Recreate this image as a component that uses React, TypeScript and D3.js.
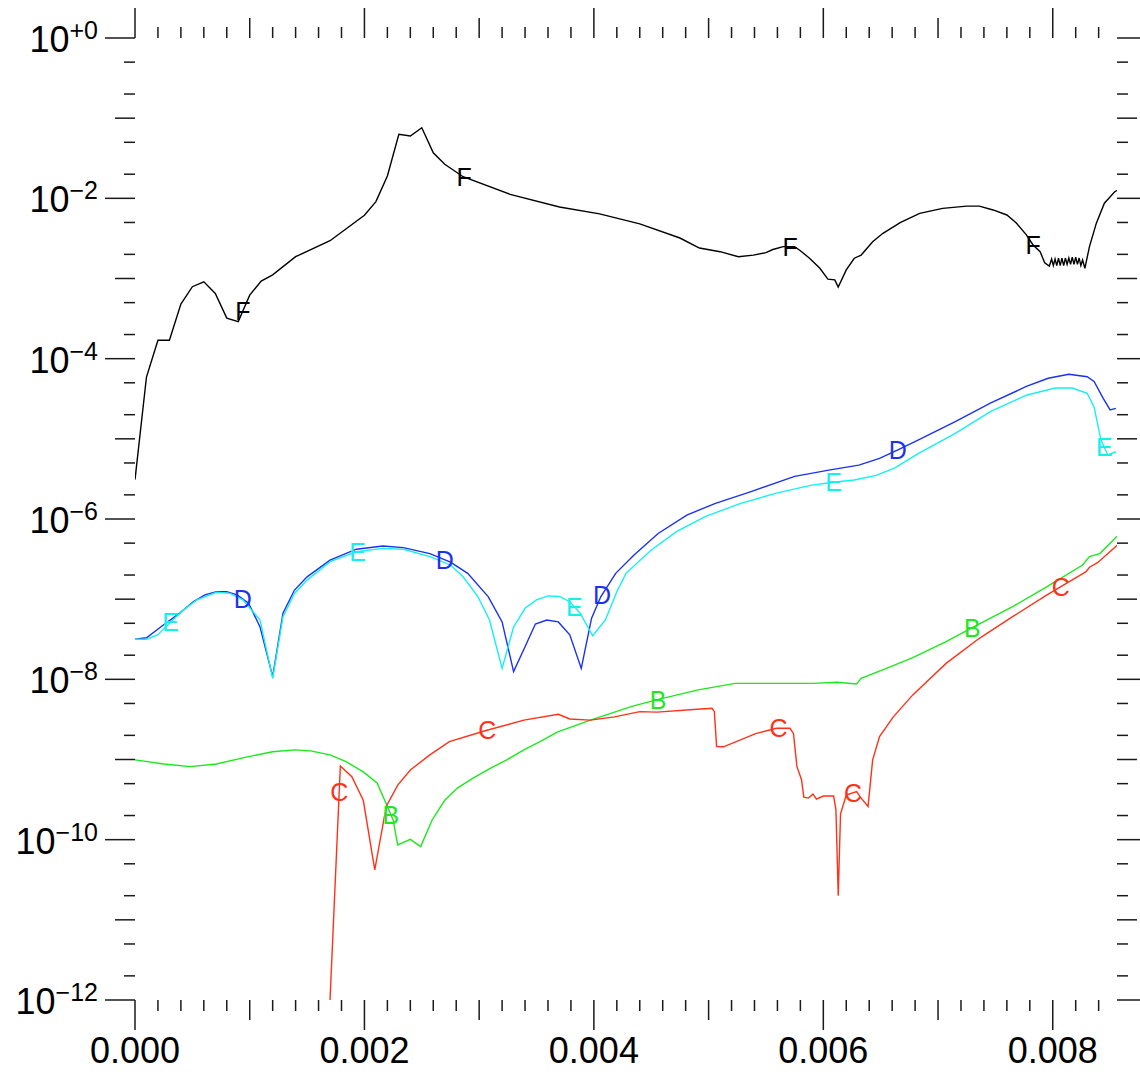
import React from 'react';
import * as d3 from 'd3';

// axis setup
const X_MAX = 0.00856;
const xMajor = [0, 0.002, 0.004, 0.006, 0.008];
const xLabels = ['0.000', '0.002', '0.004', '0.006', '0.008'];
const yMajorExp = [0, -2, -4, -6, -8, -10, -12];
const yLabels = ['+0', '\u22122', '\u22124', '\u22126', '\u22128', '\u221210', '\u221212'];

// series F (black)
const seriesF: [number, number][] = [
  [0, 3.1e-6], [0.0001, 5.9e-5], [0.0002, 1.7e-4], [0.0003, 1.7e-4], [0.0004, 4.8e-4],
  [0.0005, 7.9e-4], [0.0006, 9.1e-4], [0.0007, 6.5e-4], [0.0008, 3.2e-4], [0.0009, 2.9e-4],
  [0.001, 6.2e-4], [0.0011, 9.3e-4], [0.0012, 1.11e-3], [0.0014, 1.87e-3], [0.0017, 2.96e-3],
  [0.002, 6.15e-3], [0.0021, 9.1e-3], [0.0022, 1.9e-2], [0.0023, 6.3e-2], [0.0024, 6.0e-2],
  [0.0025, 7.6e-2], [0.0026, 3.7e-2], [0.0027, 2.66e-2], [0.00286, 1.86e-2], [0.00327, 1.12e-2],
  [0.0037, 7.8e-3], [0.00405, 6.4e-3], [0.0044, 4.8e-3], [0.00475, 3.2e-3], [0.00492, 2.4e-3],
  [0.0051, 2.16e-3], [0.00526, 1.87e-3], [0.00539, 1.96e-3], [0.0055, 2.1e-3], [0.00556, 2.3e-3],
  [0.00565, 2.5e-3], [0.00575, 2.5e-3], [0.0058, 2.22e-3], [0.00588, 1.79e-3], [0.00597, 1.34e-3],
  [0.00604, 9.8e-4], [0.0061, 9.6e-4], [0.00613, 7.8e-4], [0.0062, 1.28e-3], [0.00627, 1.79e-3],
  [0.00633, 1.96e-3], [0.00643, 2.88e-3], [0.00652, 3.66e-3], [0.00667, 4.97e-3], [0.00684, 6.5e-3],
  [0.00704, 7.5e-3], [0.00725, 8.0e-3], [0.00736, 8.0e-3], [0.00748, 7.16e-3], [0.0076, 6.2e-3],
  [0.00768, 4.97e-3], [0.00777, 3.5e-3], [0.00783, 2.6e-3], [0.00789, 2.16e-3], [0.00793, 1.57e-3],
  [0.00797, 1.43e-3], [0.00799, 1.75e-3], [0.008005, 1.45e-3], [0.00802, 1.75e-3], [0.008035, 1.45e-3],
  [0.00805, 1.8e-3], [0.008065, 1.45e-3], [0.00808, 1.8e-3], [0.008095, 1.45e-3], [0.00811, 1.8e-3],
  [0.008125, 1.5e-3], [0.00814, 1.8e-3], [0.008155, 1.5e-3], [0.00817, 1.85e-3], [0.008185, 1.5e-3],
  [0.0082, 1.85e-3], [0.008215, 1.5e-3], [0.00823, 1.8e-3], [0.008245, 1.45e-3], [0.00826, 1.7e-3],
  [0.00828, 1.34e-3], [0.00832, 2.5e-3], [0.00838, 4.9e-3], [0.00845, 8.7e-3], [0.00854, 1.21e-2],
  [0.00856, 1.25e-2],
];

// series D (blue)
const seriesD: [number, number][] = [
  [0, 3.16e-8], [0.0001, 3.3e-8], [0.00025, 4.8e-8], [0.00039, 6.7e-8], [0.00051, 9.3e-8],
  [0.00061, 1.13e-7], [0.00071, 1.24e-7], [0.0008, 1.24e-7], [0.00089, 1.13e-7], [0.00099, 8.9e-8],
  [0.00109, 4.5e-8], [0.0012, 1.08e-8], [0.00129, 6.7e-8], [0.00139, 1.3e-7], [0.0015, 1.9e-7],
  [0.0017, 3.06e-7], [0.00193, 4.2e-7], [0.00216, 4.6e-7], [0.00234, 4.39e-7], [0.00257, 3.7e-7],
  [0.00275, 2.9e-7], [0.0029, 2.1e-7], [0.00308, 1.07e-7], [0.0032, 5.2e-8], [0.0033, 1.25e-8],
  [0.0034, 2.55e-8], [0.00349, 4.9e-8], [0.00359, 5.5e-8], [0.00369, 5.2e-8], [0.00379, 3.6e-8],
  [0.00389, 1.37e-8], [0.00398, 5.8e-8], [0.00406, 1.07e-7], [0.00419, 2.1e-7], [0.00435, 3.56e-7],
  [0.00456, 6.6e-7], [0.00481, 1.12e-6], [0.00506, 1.57e-6], [0.00537, 2.2e-6], [0.00575, 3.4e-6],
  [0.00606, 4.1e-6], [0.00631, 4.7e-6], [0.00649, 5.7e-6], [0.00665, 7.3e-6], [0.00683, 9.7e-6],
  [0.00715, 1.64e-5], [0.00746, 2.8e-5], [0.00777, 4.5e-5], [0.00796, 5.7e-5], [0.00814, 6.4e-5],
  [0.0083, 5.96e-5], [0.00836, 5.2e-5], [0.00844, 3.2e-5], [0.0085, 2.3e-5], [0.00855, 2.4e-5],
];

// series E (cyan)
const seriesE: [number, number][] = [
  [0, 3.16e-8], [0.0001, 3.16e-8], [0.0002, 3.6e-8], [0.0003, 5.0e-8], [0.00042, 7.3e-8],
  [0.00054, 9.8e-8], [0.00071, 1.22e-7], [0.00083, 1.18e-7], [0.00094, 9.8e-8], [0.00109, 5.5e-8],
  [0.0012, 1.03e-8], [0.00129, 6.05e-8], [0.00139, 1.18e-7], [0.0015, 1.73e-7], [0.0017, 2.94e-7],
  [0.00193, 3.9e-7], [0.00216, 4.3e-7], [0.00234, 4.2e-7], [0.00257, 3.4e-7], [0.00275, 2.67e-7],
  [0.00286, 1.9e-7], [0.00299, 1.07e-7], [0.00309, 5.5e-8], [0.0032, 1.37e-8], [0.0033, 4.5e-8],
  [0.0034, 7.7e-8], [0.0035, 9.8e-8], [0.0036, 1.1e-7], [0.0037, 1.08e-7], [0.00379, 9.3e-8],
  [0.00388, 6.7e-8], [0.00399, 3.5e-8], [0.0041, 5.5e-8], [0.0042, 1.24e-7], [0.00428, 2.1e-7],
  [0.0045, 4.1e-7], [0.00472, 6.95e-7], [0.00497, 1.07e-6], [0.00528, 1.57e-6], [0.00559, 2.1e-6],
  [0.0059, 2.65e-6], [0.00609, 2.87e-6], [0.00627, 3.07e-6], [0.00646, 3.5e-6], [0.00662, 4.3e-6],
  [0.00683, 6.6e-6], [0.00715, 1.17e-5], [0.00746, 2.2e-5], [0.00777, 3.5e-5], [0.00802, 4.3e-5],
  [0.00817, 4.3e-5], [0.0083, 3.7e-5], [0.00836, 2.5e-5], [0.00842, 9.7e-6], [0.00848, 6.3e-6],
  [0.00855, 6.9e-6],
];

// series C (red)
const seriesC: [number, number][] = [
  [0.0017, 1e-12], [0.00179, 8.3e-10], [0.00189, 6.1e-10], [0.00199, 3.1e-10], [0.00209, 4.2e-11],
  [0.00219, 2.6e-10], [0.00229, 4.8e-10], [0.0024, 7.4e-10], [0.00257, 1.14e-9], [0.00274, 1.67e-9],
  [0.00306, 2.3e-9], [0.00339, 3.1e-9], [0.00369, 3.66e-9], [0.00379, 3.2e-9], [0.00397, 3.1e-9],
  [0.00418, 3.4e-9], [0.0044, 3.95e-9], [0.00455, 3.9e-9], [0.00487, 4.2e-9], [0.00503, 4.35e-9],
  [0.00505, 3.95e-9], [0.00507, 1.45e-9], [0.00513, 1.44e-9], [0.00541, 2.1e-9], [0.00559, 2.45e-9],
  [0.00571, 2.45e-9], [0.00574, 2.1e-9], [0.00577, 8.15e-10], [0.00581, 5.6e-10], [0.00583, 3.4e-10],
  [0.00587, 3.3e-10], [0.00591, 3.7e-10], [0.00594, 3.2e-10], [0.006, 3.5e-10], [0.00609, 3.5e-10],
  [0.00611, 2.35e-10], [0.00613, 2.0e-11], [0.00615, 2.1e-10], [0.0062, 3.6e-10], [0.00629, 3.97e-10],
  [0.00633, 3.3e-10], [0.00639, 2.6e-10], [0.00643, 9.9e-10], [0.00649, 1.93e-9], [0.00661, 3.4e-9],
  [0.00678, 6.4e-9], [0.00707, 1.58e-8], [0.00736, 3.25e-8], [0.00765, 6.05e-8], [0.00795, 1.13e-7],
  [0.00824, 2.0e-7], [0.00829, 2.2e-7], [0.00832, 2.5e-7], [0.00839, 2.85e-7], [0.00854, 4.4e-7],
  [0.00856, 4.7e-7],
];

// series B (green)
const seriesB: [number, number][] = [
  [0, 9.9e-10], [0.00025, 8.8e-10], [0.00048, 8.15e-10], [0.00071, 8.8e-10], [0.00097, 1.07e-9],
  [0.0012, 1.25e-9], [0.00139, 1.32e-9], [0.00153, 1.28e-9], [0.0017, 1.14e-9], [0.00184, 9.4e-10],
  [0.00199, 7.0e-10], [0.00211, 5.1e-10], [0.00219, 2.8e-10], [0.00225, 1.76e-10], [0.00229, 8.6e-11],
  [0.0024, 1.01e-10], [0.00249, 8.2e-11], [0.00259, 1.76e-10], [0.0027, 3.1e-10], [0.00281, 4.4e-10],
  [0.00295, 5.9e-10], [0.0031, 7.8e-10], [0.00324, 9.9e-10], [0.00339, 1.32e-9], [0.00353, 1.67e-9],
  [0.00368, 2.2e-9], [0.00397, 3.1e-9], [0.00433, 4.6e-9], [0.00458, 5.7e-9], [0.00491, 7.4e-9],
  [0.00523, 8.9e-9], [0.00559, 8.9e-9], [0.00591, 8.9e-9], [0.00612, 9.2e-9], [0.00629, 8.75e-9],
  [0.00633, 1.03e-8], [0.00655, 1.37e-8], [0.00678, 1.86e-8], [0.00707, 2.95e-8], [0.00731, 4.5e-8],
  [0.00765, 8.05e-8], [0.00795, 1.43e-7], [0.00826, 2.67e-7], [0.00832, 3.4e-7], [0.00841, 3.7e-7],
  [0.00853, 5.5e-7], [0.00856, 6.1e-7],
];

// x positions of the letter labels along each curve
const labelsF = [0.00094, 0.00287, 0.00571, 0.00783];
const labelsD = [0.00094, 0.0027, 0.00407, 0.00665];
const labelsE = [0.00031, 0.00194, 0.00383, 0.00609, 0.00845];
const labelsC = [0.00178, 0.00307, 0.00561, 0.00626, 0.00807];
const labelsB = [0.00223, 0.00456, 0.0073];

const series = [
  { name: 'F', data: seriesF, labels: labelsF, color: '#000000' },
  { name: 'D', data: seriesD, labels: labelsD, color: '#1a32f0' },
  { name: 'E', data: seriesE, labels: labelsE, color: '#14f0f0' },
  { name: 'B', data: seriesB, labels: labelsB, color: '#1de81d' },
  { name: 'C', data: seriesC, labels: labelsC, color: '#ff3218' },
];

const FONT = '"Liberation Sans", Arial, Helvetica, sans-serif';

// y value along a series at x, interpolated in log space
const interpLog = (data: [number, number][], x: number) => {
  for (let i = 1; i < data.length; i++) {
    if (x <= data[i][0]) {
      const [x0, y0] = data[i - 1];
      const [x1, y1] = data[i];
      const t = (x - x0) / (x1 - x0);
      return Math.pow(10, Math.log10(y0) + t * (Math.log10(y1) - Math.log10(y0)));
    }
  }
  return data[data.length - 1][1];
};

const App = () => {
  const width = 1140;
  const height = 1072;
  const left = 135, right = 1117, top = 38, bottom = 1000;

  const x = d3.scaleLinear().domain([0, X_MAX]).range([left, right]);
  const y = d3.scaleLog().domain([1e-12, 1]).range([bottom, top]);

  const line = d3.line<[number, number]>()
    .x(d => x(d[0]))
    .y(d => y(d[1]));

  // x ticks: every 0.0002, medium at odd 0.001, long at 0.002
  const xTicks: { v: number; len: number }[] = [];
  for (let i = 0; i * 0.0002 <= X_MAX + 1e-12; i++) {
    xTicks.push({ v: i * 0.0002, len: i % 10 === 0 ? 30 : i % 5 === 0 ? 20 : 11 });
  }
  // y ticks: decades (long on even, medium on odd) plus 2x and 5x minors
  const yTicks: { v: number; len: number }[] = [];
  for (let e = 0; e >= -12; e--) {
    yTicks.push({ v: Math.pow(10, e), len: e % 2 === 0 ? 30 : 20 });
    if (e > -12) {
      yTicks.push({ v: 2 * Math.pow(10, e - 1), len: 11 });
      yTicks.push({ v: 5 * Math.pow(10, e - 1), len: 11 });
    }
  }

  const tickStyle = { stroke: '#1a1a1a', strokeWidth: 1.5 };

  return (
    <svg width={width} height={height} style={{ position: 'absolute', left: 0, top: 0, background: '#fff' }}>
      <defs>
        <clipPath id="plot-clip">
          <rect x={left} y={top} width={right - left} height={bottom - top} />
        </clipPath>
      </defs>

      {/* bottom and top ticks */}
      {xTicks.map((t, i) => (
        <g key={'xt' + i}>
          <line x1={x(t.v)} x2={x(t.v)} y1={bottom} y2={bottom + t.len} {...tickStyle} />
          <line x1={x(t.v)} x2={x(t.v)} y1={top} y2={top - t.len} {...tickStyle} />
        </g>
      ))}
      {/* left and right ticks */}
      {yTicks.map((t, i) => (
        <g key={'yt' + i}>
          <line x1={left - t.len} x2={left} y1={y(t.v)} y2={y(t.v)} {...tickStyle} />
          <line x1={right} x2={right + t.len} y1={y(t.v)} y2={y(t.v)} {...tickStyle} />
        </g>
      ))}

      {xMajor.map((v, i) => (
        <text key={'xl' + i} x={x(v)} y={1063} textAnchor="middle" fontFamily={FONT} fontSize={36} fill="#000">
          {xLabels[i]}
        </text>
      ))}
      {yMajorExp.map((e, i) => (
        <text key={'yl' + i} x={98} y={y(Math.pow(10, e)) + 14} textAnchor="end" fontFamily={FONT} fontSize={36} fill="#000">
          10<tspan dy={-13} fontSize={25}>{yLabels[i]}</tspan>
        </text>
      ))}

      <g clipPath="url(#plot-clip)">
        {series.map(s => (
          <path key={s.name} d={line(s.data) || ''} fill="none" stroke={s.color} strokeWidth={1.4} />
        ))}
      </g>

      {series.map(s => s.labels.map((lx, i) => (
        <text key={s.name + i} x={x(lx)} y={y(interpLog(s.data, lx))} dy="0.36em" textAnchor="middle"
          fontFamily={FONT} fontSize={25} fill={s.color}>
          {s.name}
        </text>
      )))}
    </svg>
  );
};

export default App;
